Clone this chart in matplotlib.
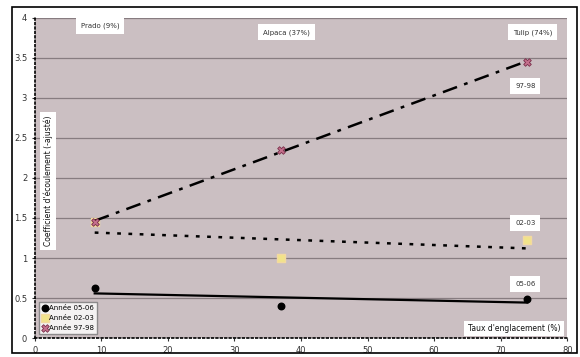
import numpy as np
import matplotlib
matplotlib.use('Agg')
from matplotlib import pyplot as plt
from matplotlib.patches import Rectangle

# taux d'englacement des bassins (%)
glaciation = [9, 37, 74]
basin_labels = ['Prado (9%)', 'Alpaca (37%)', 'Tulip (74%)']

# coefficient d'ecoulement par annee
coef_0506 = [0.62, 0.40, 0.49]
coef_0203 = [1.45, 1.00, 1.22]
coef_9798 = [1.45, 2.35, 3.45]

series_names = ['Année 05-06', 'Année 02-03', 'Année 97-98']
short_names = ['05-06', '02-03', '97-98']

x_ticks = [0, 10, 20, 30, 40, 50, 60, 70, 80]
y_ticks = [0, 0.5, 1, 1.5, 2, 2.5, 3, 3.5, 4]

fig = plt.figure(figsize=(5.8, 3.57), dpi=100)
fig.patches.append(Rectangle((0.02, 0.01), 0.975, 0.97, transform=fig.transFigure,
                             fill=False, edgecolor='black', linewidth=1.2))
ax = fig.add_axes([0.06, 0.053, 0.918, 0.897])
ax.set_facecolor('#cbbfc2')

for y in y_ticks[1:]:
    ax.axhline(y, color='#877c80', linewidth=0.9, zorder=1)

bbox = dict(boxstyle='square,pad=0.7', facecolor='white', edgecolor='none')

# trend lines
x_arr = np.array(glaciation)
xs = np.array([9, 74])
styles = [dict(linestyle='-', linewidth=1.6),
          dict(linestyle=(0, (1.5, 3)), linewidth=1.8),
          dict(linestyle=(0, (6, 3, 1.5, 3)), linewidth=1.8)]
for vals, st in zip([coef_0506, coef_0203, coef_9798], styles):
    p = np.polyfit(x_arr, vals, 1)
    ax.plot(xs, np.polyval(p, xs), color='black', zorder=3, **st)

ax.scatter(glaciation, coef_0506, marker='o', s=22, color='black', zorder=4,
           label=series_names[0])
ax.scatter(glaciation, coef_0203, marker='s', s=30, color='#f1e38a', edgecolor='#f3d9a0',
           zorder=2, label=series_names[1])
ax.scatter(glaciation, coef_9798, marker='X', s=30, color='#c4708c', edgecolor='#7a2f4a',
           linewidth=0.6, zorder=4, label=series_names[2])

# basin labels
for xb, lab, yb in zip(glaciation, basin_labels, [3.9, 3.82, 3.82]):
    ax.text(xb + 0.8, yb, lab, fontsize=5, ha='center', va='center', color='#333333', bbox=bbox)

# year labels on the right
for name, yl in zip(short_names, [0.68, 1.44, 3.15]):
    ax.text(73.7, yl, name, fontsize=5, ha='center', va='center', color='#333333', bbox=bbox)

ax.text(72, 0.12, "Taux d'englacement (%)", fontsize=5.5, ha='center', va='center',
        color='#111111', bbox=dict(boxstyle='square,pad=0.45', facecolor='white', edgecolor='none'))
ax.text(2, 1.96, "Coefficient d'écoulement (-ajusté)", fontsize=5.5, rotation=90,
        ha='center', va='center', color='#111111',
        bbox=dict(boxstyle='square,pad=0.45', facecolor='white', edgecolor='none'))

ax.set_xlim(0, 80)
ax.set_ylim(0, 4)
ax.set_xticks(x_ticks)
ax.set_yticks(y_ticks)
ax.set_yticklabels([f'{v:g}' for v in y_ticks])
ax.tick_params(labelsize=6, length=2, colors='#333333')
for side in ['top', 'right']:
    ax.spines[side].set_visible(False)
for side in ['left', 'bottom']:
    ax.spines[side].set_linestyle(':')
    ax.spines[side].set_linewidth(1.2)

leg = ax.legend(loc='lower left', fontsize=5, frameon=True, fancybox=False,
                handletextpad=0.2, borderpad=0.4, labelspacing=0.55, handlelength=0.8,
                bbox_to_anchor=(0.002, 0.003))
leg.get_frame().set_facecolor('white')
leg.get_frame().set_edgecolor('#777777')

fig.savefig('out.png', dpi=100)
